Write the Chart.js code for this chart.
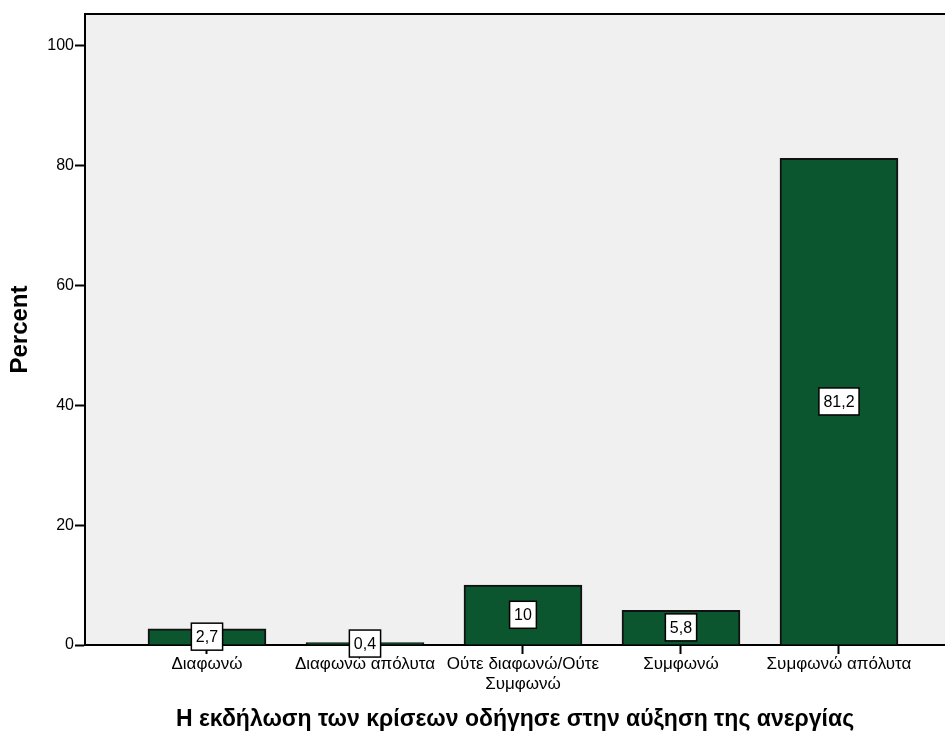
<!DOCTYPE html>
<html>
<head>
<meta charset="utf-8">
<script src="https://cdn.jsdelivr.net/npm/chart.js@4"></script>
<style>
  html, body { margin: 0; padding: 0; background: #fff; overflow: hidden; }
  #wrap { width: 945px; height: 733px; }
</style>
</head>
<body>
<div id="wrap"><canvas id="grafico"></canvas></div>
<script>
// data
const categories = ['Διαφωνώ', 'Διαφωνώ απόλυτα', ['Ούτε διαφωνώ/Ούτε', 'Συμφωνώ'], 'Συμφωνώ', 'Συμφωνώ απόλυτα'];
const percents = [2.7, 0.4, 10, 5.8, 81.2];
const valueLabels = ['2,7', '0,4', '10', '5,8', '81,2'];
const yTicks = [0, 20, 40, 60, 80, 100];

const corBarra = '#0b562e';
const corFundo = '#f0f0f0';
const fonte = 'Arial, "Liberation Sans", sans-serif';

const fundoPlugin = {
  id: 'fundo',
  beforeDraw(chart) {
    const { ctx, chartArea: a } = chart;
    ctx.save();
    ctx.fillStyle = corFundo;
    ctx.fillRect(a.left, a.top, a.right - a.left, a.bottom - a.top);
    // top border of the plot box
    ctx.strokeStyle = '#000';
    ctx.lineWidth = 2;
    ctx.beginPath();
    ctx.moveTo(a.left, a.top);
    ctx.lineTo(a.right, a.top);
    ctx.stroke();
    ctx.restore();
  }
};

const rotulosPlugin = {
  id: 'rotulos',
  afterDatasetsDraw(chart) {
    const { ctx } = chart;
    const meta = chart.getDatasetMeta(0);
    ctx.save();
    ctx.font = '16px ' + fonte;
    ctx.textAlign = 'center';
    ctx.textBaseline = 'middle';
    meta.data.forEach((bar, i) => {
      const txt = valueLabels[i];
      const cy = (bar.y + bar.base) / 2;
      const w = ctx.measureText(txt).width + 9;
      const h = 27;
      ctx.fillStyle = '#fff';
      ctx.fillRect(bar.x - w / 2, cy - h / 2, w, h);
      ctx.strokeStyle = '#000';
      ctx.lineWidth = 1.5;
      ctx.strokeRect(bar.x - w / 2, cy - h / 2, w, h);
      ctx.fillStyle = '#000';
      ctx.fillText(txt, bar.x, cy + 1);
    });
    ctx.restore();
  }
};

new Chart(document.getElementById('grafico'), {
  type: 'bar',
  data: {
    datasets: [{
      data: percents.map((v, i) => ({ x: i, y: v })),
      backgroundColor: corBarra,
      borderColor: '#111',
      borderWidth: 2,
      barThickness: 118
    }]
  },
  options: {
    responsive: true,
    maintainAspectRatio: false,
    animation: false,
    layout: { padding: { top: 14, right: 0, left: 0, bottom: 0 } },
    plugins: {
      legend: { display: false },
      tooltip: { enabled: false }
    },
    scales: {
      x: {
        type: 'linear',
        offset: false,
        min: -0.772,
        max: 4.671,
        afterBuildTicks(scale) {
          scale.ticks = categories.map((c, i) => ({ value: i }));
        },
        afterFit(scale) { scale.height = 88; },
        ticks: {
          color: '#000',
          font: { family: fonte, size: 17, lineHeight: 1.2 },
          padding: 0,
          maxRotation: 0,
          autoSkip: false,
          callback: (v) => categories[v]
        },
        grid: {
          offset: false,
          drawOnChartArea: false,
          drawTicks: true,
          tickLength: 9,
          tickWidth: 2,
          tickColor: '#000'
        },
        border: { display: true, color: '#000', width: 2 },
        title: {
          display: true,
          text: 'Η εκδήλωση των κρίσεων οδήγησε στην αύξηση της ανεργίας',
          color: '#000',
          font: { family: fonte, size: 23, weight: 'bold' },
          padding: { top: 0, bottom: 0 }
        }
      },
      y: {
        min: 0,
        max: 105.3,
        afterBuildTicks(scale) {
          scale.ticks = yTicks.map(v => ({ value: v }));
        },
        afterFit(scale) { scale.width = 85; },
        ticks: {
          color: '#000',
          font: { family: fonte, size: 16 },
          padding: 1
        },
        grid: {
          drawOnChartArea: false,
          drawTicks: true,
          tickLength: 10,
          tickWidth: 2,
          tickColor: '#000'
        },
        border: { display: true, color: '#000', width: 2 },
        title: {
          display: true,
          text: 'Percent',
          color: '#000',
          font: { family: fonte, size: 24, weight: 'bold' },
          padding: { top: 6, bottom: 0 }
        }
      }
    }
  },
  plugins: [fundoPlugin, rotulosPlugin]
});
</script>
</body>
</html>
